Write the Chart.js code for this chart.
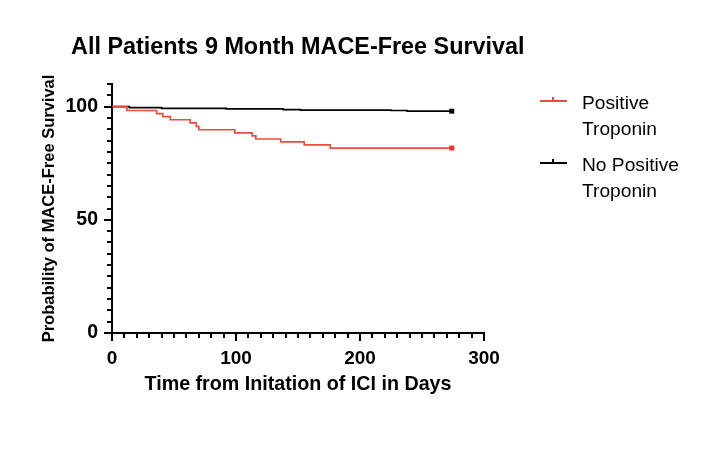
<!DOCTYPE html>
<html>
<head>
<meta charset="utf-8">
<script src="https://cdn.jsdelivr.net/npm/chart.js@4.4.1/dist/chart.umd.min.js"></script>
<style>
  html, body { margin: 0; padding: 0; background: #fff; }
  #wrap { position: relative; width: 716px; height: 454px; overflow: hidden; font-family: "Liberation Sans", Arial, sans-serif; }
  #c { position: absolute; left: 0; top: 0; }
  #title { position: absolute; left: 71px; top: 33px; font-size: 23.4px; line-height: 26px; font-weight: bold; color: #000; white-space: nowrap; }
  .leg { position: absolute; left: 582px; font-size: 19.2px; line-height: 26px; color: #000; white-space: nowrap; }
  .legline { position: absolute; height: 2px; width: 27px; left: 540px; }
  .legtick { position: absolute; width: 2px; height: 4px; left: 552px; }
</style>
</head>
<body>
<div id="wrap">
  <canvas id="c" width="716" height="454"></canvas>
  <div id="title">All Patients 9 Month MACE-Free Survival</div>
  <div class="legline" style="top:100px;background:#ee4b3f"></div>
  <div class="legtick" style="top:97px;background:#ee4b3f"></div>
  <div class="leg" style="top:90px">Positive<br>Troponin</div>
  <div class="legline" style="top:162px;background:#000"></div>
  <div class="legtick" style="top:159px;background:#000"></div>
  <div class="leg" style="top:152px">No Positive<br>Troponin</div>
</div>
<script>
// ---- Data ----
const posDays = [0, 12, 36, 41, 47, 63, 68, 70, 99, 113, 116, 136, 155, 176, 274];
const posSurv = [100, 98.3, 96.9, 95.6, 94.2, 92.8, 91.3, 89.8, 88.4, 87.1, 85.7, 84.4, 83.1, 81.7, 81.7];
const negDays = [0, 14, 40, 92, 138, 152, 225, 238, 274];
const negSurv = [100, 99.6, 99.2, 99.0, 98.7, 98.5, 98.3, 98.0, 98.0];
const xTickLabels = [0, 100, 200, 300];
const yTickLabels = [0, 50, 100];

const RED = '#ee4b3f';

function pts(days, surv) { return days.map((d, i) => ({x: d, y: surv[i]})); }
function endOnly(n, r) { return Array.from({length: n}, (_, i) => i === n - 1 ? r : 0); }

const axisTicks = {
  id: 'axisTicks',
  afterDraw(chart) {
    const {ctx, chartArea, scales: {x, y}} = chart;
    ctx.save();
    ctx.strokeStyle = '#000';
    ctx.lineWidth = 2;
    x.ticks.forEach(t => {
      const px = Math.round(x.getPixelForValue(t.value));
      const len = xTickLabels.includes(t.value) ? 8 : 5;
      ctx.beginPath(); ctx.moveTo(px, chartArea.bottom); ctx.lineTo(px, chartArea.bottom + len); ctx.stroke();
    });
    y.ticks.forEach(t => {
      const py = Math.round(y.getPixelForValue(t.value));
      const len = yTickLabels.includes(t.value) ? 8 : 5;
      ctx.beginPath(); ctx.moveTo(chartArea.left, py); ctx.lineTo(chartArea.left - len, py); ctx.stroke();
    });
    ctx.restore();
  }
};

new Chart(document.getElementById('c'), {
  type: 'line',
  data: {
    datasets: [
      {
        label: 'Positive Troponin',
        data: pts(posDays, posSurv),
        borderColor: RED, backgroundColor: '#ee3124',
        borderWidth: 1.7, stepped: true, fill: false,
        pointStyle: 'rect', pointRadius: endOnly(posDays.length, 3.5), pointHoverRadius: 0,
        pointBorderWidth: 0, clip: false
      },
      {
        label: 'No Positive Troponin',
        data: pts(negDays, negSurv),
        borderColor: '#000', backgroundColor: '#000',
        borderWidth: 1.7, stepped: true, fill: false,
        pointStyle: 'rect', pointRadius: endOnly(negDays.length, 3.5), pointHoverRadius: 0,
        pointBorderWidth: 0, clip: false
      }
    ]
  },
  options: {
    responsive: false,
    animation: false,
    devicePixelRatio: 1,
    layout: { padding: { left: 0, top: 84, right: 232, bottom: 0 } },
    plugins: { legend: { display: false }, tooltip: { enabled: false }, title: { display: false } },
    scales: {
      x: {
        type: 'linear', min: 0, max: 300,
        afterFit(s) { s.height = 121; },
        grid: { display: false, drawTicks: false },
        border: { display: true, color: '#000', width: 2 },
        ticks: {
          stepSize: 10, autoSkip: false, maxRotation: 0, padding: 14, color: '#000',
          font: { family: 'Liberation Sans', size: 19, weight: 'bold' },
          callback: v => xTickLabels.includes(v) ? String(v) : ''
        },
        title: {
          display: true, text: 'Time from Initation of ICI in Days', color: '#000',
          font: { family: 'Liberation Sans', size: 19.7, weight: 'bold' },
          padding: { top: 0, bottom: 58 }
        }
      },
      y: {
        type: 'linear', min: 0, max: 110,
        afterFit(s) { s.width = 112; },
        grid: { display: false, drawTicks: false },
        border: { display: true, color: '#000', width: 2 },
        ticks: {
          stepSize: 5, autoSkip: false, padding: 14, color: '#000',
          font: { family: 'Liberation Sans', size: 19.5, weight: 'bold' },
          callback: v => yTickLabels.includes(v) ? String(v) : ''
        },
        title: {
          display: true, text: 'Probability of MACE-Free Survival', color: '#000',
          font: { family: 'Liberation Sans', size: 16.5, weight: 'bold' },
          padding: { top: 40, bottom: 0 }
        }
      }
    }
  },
  plugins: [axisTicks]
});
</script>
</body>
</html>
